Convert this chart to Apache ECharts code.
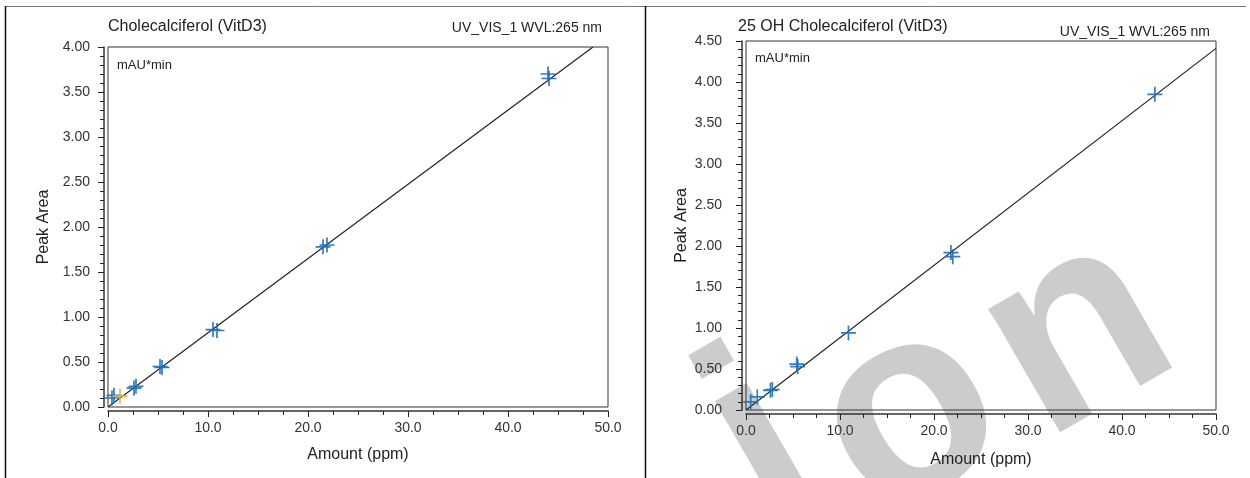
<!DOCTYPE html>
<html>
<head>
<meta charset="utf-8">
<script src="https://cdn.jsdelivr.net/npm/echarts@6/dist/echarts.min.js"></script>
<style>
  html, body { margin: 0; padding: 0; background: #fff; }
  #chart { width: 1250px; height: 478px; }
</style>
</head>
<body>
<div id="chart"></div>
<script>
// left panel: Cholecalciferol (VitD3)
const d3Amount = [0.4, 0.6, 2.6, 2.8, 5.2, 5.4, 10.5, 10.9, 21.5, 21.9, 44.0, 44.1];
const d3Area = [0.10, 0.13, 0.21, 0.23, 0.45, 0.44, 0.86, 0.85, 1.78, 1.80, 3.70, 3.65];
const d3FlagAmount = [1.2];
const d3FlagArea = [0.12];
const d3FitAmount = [0, 48.5];
const d3FitArea = [0, 4.0];

// right panel: 25 OH Cholecalciferol (VitD3)
const ohAmount = [0.5, 1.2, 2.6, 2.8, 5.4, 5.5, 10.9, 21.8, 22.0, 43.5];
const ohArea = [0.10, 0.16, 0.24, 0.25, 0.56, 0.53, 0.94, 1.92, 1.87, 3.85];
const ohFitAmount = [0, 50];
const ohFitArea = [0, 4.41];

const titles = ['Cholecalciferol (VitD3)', '25 OH Cholecalciferol (VitD3)'];
const channel = 'UV_VIS_1 WVL:265 nm';
const yMax = [4.0, 4.5];

const font = '"Liberation Sans", Arial, sans-serif';
const blue = '#1f6fb2';
const cross = 'path://M-0.8,-7h1.6v14h-1.6z M-7,-0.8h14v1.6h-14z';

const zip = (xs, ys) => xs.map((x, i) => [x, ys[i]]);

const grids = [
  { left: 108, top: 47, width: 500, height: 360 },
  { left: 746, top: 41, width: 470, height: 369 }
];
const yLabelMargin = [14, 20];
const xNameGap = [36, 38];

const chart = echarts.init(document.getElementById('chart'));

const xAxisBase = (gridIndex) => ({
  type: 'value',
  gridIndex,
  min: 0,
  max: 50,
  interval: 10,
  offset: 4,
  name: 'Amount (ppm)',
  nameLocation: 'middle',
  nameGap: xNameGap[gridIndex],
  nameTextStyle: { fontFamily: font, fontSize: 16, color: '#222' },
  axisLine: { show: true, onZero: false, lineStyle: { color: '#333', width: 1.5 } },
  axisTick: { show: true, length: 6, lineStyle: { color: '#222', width: 1 } },
  minorTick: { show: true, splitNumber: 4, length: 4, lineStyle: { color: '#222', width: 1 } },
  splitLine: { show: false },
  axisLabel: {
    fontFamily: font, fontSize: 14, color: '#333', margin: 10,
    formatter: (v) => v.toFixed(1)
  }
});

const yAxisBase = (gridIndex) => ({
  type: 'value',
  gridIndex,
  min: 0,
  max: yMax[gridIndex],
  interval: 0.5,
  offset: 4,
  name: 'Peak Area',
  nameLocation: 'middle',
  nameGap: 52,
  nameRotate: 90,
  nameTextStyle: { fontFamily: font, fontSize: 16, color: '#222' },
  axisLine: { show: true, onZero: false, lineStyle: { color: '#333', width: 1.5 } },
  axisTick: { show: true, length: 6, lineStyle: { color: '#222', width: 1 } },
  minorTick: { show: true, splitNumber: 5, length: 4, lineStyle: { color: '#222', width: 1 } },
  splitLine: { show: false },
  axisLabel: {
    fontFamily: font, fontSize: 14, color: '#333', margin: yLabelMargin[gridIndex],
    formatter: (v) => v.toFixed(2)
  }
});

const pointSeries = (idx, data, color) => ({
  type: 'scatter',
  xAxisIndex: idx,
  yAxisIndex: idx,
  data,
  symbol: cross,
  symbolSize: 15,
  itemStyle: { color, opacity: 0.9 },
  z: 4
});

const fitSeries = (idx, data) => ({
  type: 'line',
  xAxisIndex: idx,
  yAxisIndex: idx,
  data,
  symbol: 'none',
  lineStyle: { color: '#222', width: 1.2 },
  z: 3
});

// watermark letters (page decoration, not data)
const markLetter = (ch, x, y) => ({
  type: 'text', x, y, rotation: 30 * Math.PI / 180, z: -1,
  style: {
    text: ch, x: 0, y: 0, align: 'center', verticalAlign: 'middle',
    fontFamily: font, fontSize: 270, fontWeight: 'bold', fill: '#cccccc'
  }
});

chart.setOption({
  animation: false,
  backgroundColor: '#fff',
  title: [
    { text: titles[0], left: 103, top: 14, textStyle: { fontFamily: font, fontSize: 16, fontWeight: 'normal', color: '#222' } },
    { text: channel, right: 643, top: 16, textStyle: { fontFamily: font, fontSize: 14, fontWeight: 'normal', color: '#222' } },
    { text: titles[1], left: 733, top: 14, textStyle: { fontFamily: font, fontSize: 16, fontWeight: 'normal', color: '#222' } },
    { text: channel, right: 35, top: 20, textStyle: { fontFamily: font, fontSize: 14, fontWeight: 'normal', color: '#222' } },
    { text: 'mAU*min', left: 112, top: 54, textStyle: { fontFamily: font, fontSize: 13, fontWeight: 'normal', color: '#222' } },
    { text: 'mAU*min', left: 750, top: 47, textStyle: { fontFamily: font, fontSize: 13, fontWeight: 'normal', color: '#222' } }
  ],
  grid: grids.map((g) => ({ ...g, show: true, borderColor: '#333', borderWidth: 1, backgroundColor: 'transparent' })),
  xAxis: [xAxisBase(0), xAxisBase(1)],
  yAxis: [yAxisBase(0), yAxisBase(1)],
  graphic: [
    // table cell borders
    { type: 'line', shape: { x1: 5, y1: 6.5, x2: 1246, y2: 6.5 }, style: { stroke: '#777', lineWidth: 1 }, z: -2 },
    { type: 'line', shape: { x1: 5.5, y1: 6, x2: 5.5, y2: 478 }, style: { stroke: '#111', lineWidth: 1.5 }, z: -2 },
    { type: 'line', shape: { x1: 645.5, y1: 6, x2: 645.5, y2: 478 }, style: { stroke: '#111', lineWidth: 1.5 }, z: -2 },
    markLetter('i', 765, 451),
    markLetter('o', 910, 418),
    markLetter('n', 1078, 336)
  ],
  series: [
    fitSeries(0, zip(d3FitAmount, d3FitArea)),
    pointSeries(0, zip(d3Amount, d3Area), blue),
    pointSeries(0, zip(d3FlagAmount, d3FlagArea), '#d9b53a'),
    fitSeries(1, zip(ohFitAmount, ohFitArea)),
    pointSeries(1, zip(ohAmount, ohArea), blue)
  ]
});
</script>
</body>
</html>
